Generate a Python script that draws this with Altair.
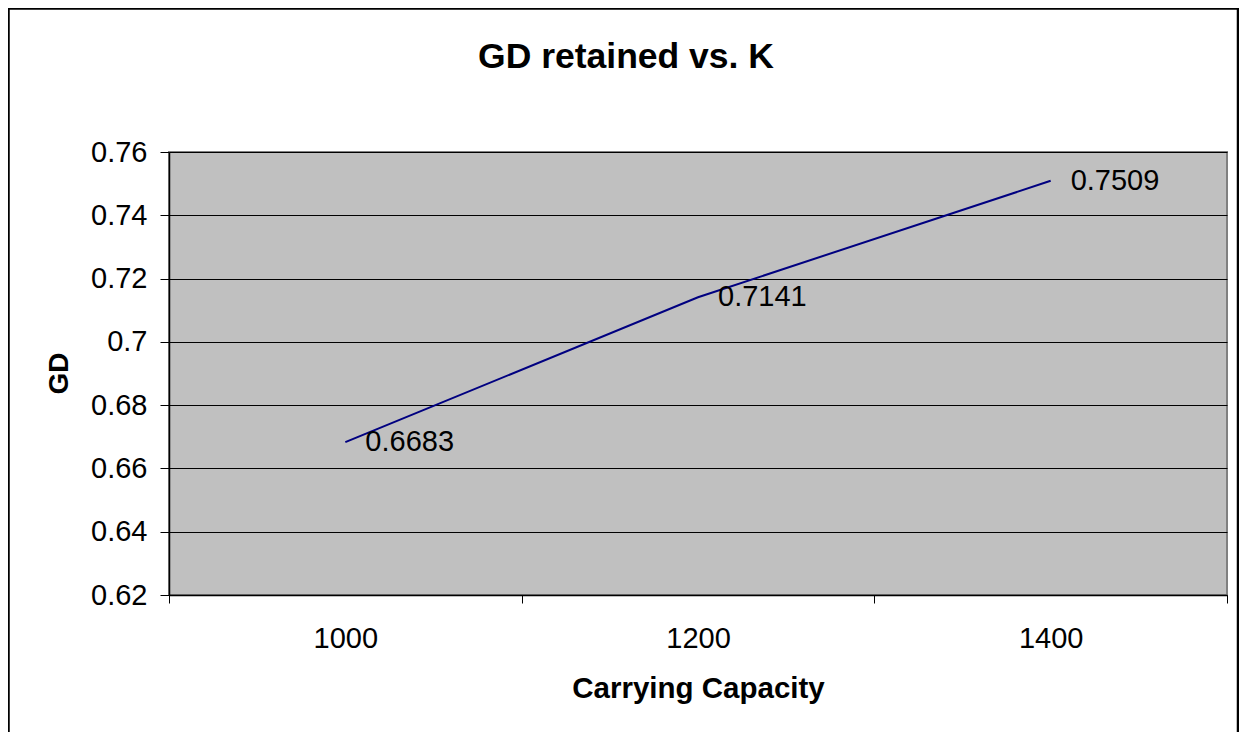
import altair as alt
import pandas as pd

K = ["1000", "1200", "1400"]
GD = [0.6683, 0.7141, 0.7509]
LABELS = ["0.6683", "0.7141", "0.7509"]
Y_TICKS = [0.62, 0.64, 0.66, 0.68, 0.70, 0.72, 0.74, 0.76]

FONT = "Liberation Sans"

df = pd.DataFrame({"K": K, "GD": GD, "label": LABELS})

x = alt.X(
    "K:O",
    sort=K,
    scale=alt.Scale(type="band", paddingInner=0, paddingOuter=0),
    axis=alt.Axis(
        title="Carrying Capacity",
        labelAngle=0,
        tickBand="extent",
        grid=False,
        domainColor="black",
        domainWidth=1.5,
        tickColor="black",
        tickSize=8,
        labelPadding=44,
        labelBaseline="alphabetic",
        labelFontSize=29,
        labelFont=FONT,
        labelColor="black",
        titleFont=FONT,
        titleFontSize=29.5,
        titleFontWeight="bold",
        titleColor="black",
        titleBaseline="alphabetic",
        titleY=102,
    ),
)
y = alt.Y(
    "GD:Q",
    scale=alt.Scale(domain=[0.62, 0.76], nice=False, zero=False),
    axis=alt.Axis(
        title="GD",
        values=Y_TICKS,
        format="~g",
        grid=True,
        gridColor="black",
        gridWidth=1,
        gridOpacity=1,
        domainColor="black",
        domainWidth=1.5,
        tickColor="black",
        tickSize=9,
        labelPadding=13,
        labelFontSize=29,
        labelFont=FONT,
        labelColor="black",
        titleFont=FONT,
        titleFontSize=28,
        titleFontWeight="bold",
        titleColor="black",
        titleBaseline="alphabetic",
        titleAngle=270,
        titleX=-102,
        titleY=221,
        titleAlign="center",
    ),
)

frame = alt.Chart(pd.DataFrame({"f": [0]})).mark_rect(
    fillOpacity=0, stroke="black", strokeWidth=2.5
).encode(
    x=alt.value(-160.5), x2=alt.value(1069), y=alt.value(-143.5), y2=alt.value(650)
)

base = alt.Chart(df)
line = base.mark_line(color="#000080", strokeWidth=2).encode(x=x, y=y)
text = base.mark_text(
    align="left", baseline="middle", dx=20, fontSize=29, font=FONT, color="black"
).encode(x=x, y=y, text="label:N")

chart = (
    alt.layer(frame, line, text)
    .properties(
        width=1058,
        height=443,
        title=alt.TitleParams(
            "GD retained vs. K",
            fontSize=35.5,
            fontWeight="bold",
            font=FONT,
            color="black",
            anchor="middle",
            frame="group",
            dx=-72,
            baseline="alphabetic",
            offset=-96,
        ),
        autosize=alt.AutoSizeParams(type="none"),
        padding={"left": 161, "top": 144, "right": 12, "bottom": 137},
    )
    .configure(background="white")
    .configure_view(fill="#C0C0C0", stroke="#808080", strokeWidth=2)
)

chart.save("out.html", embed_options={"renderer": "svg", "actions": False})
